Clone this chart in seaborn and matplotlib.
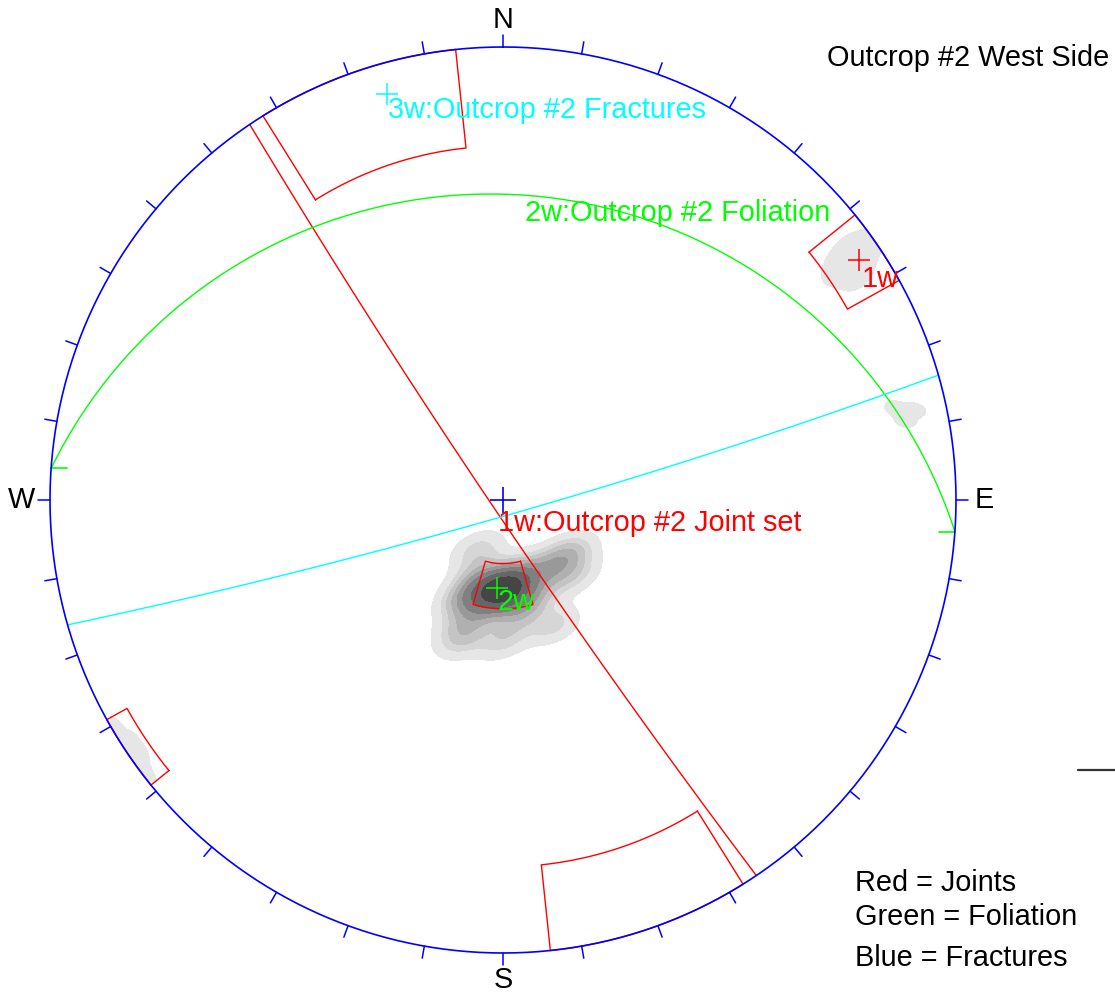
import numpy as np
import pandas as pd
import matplotlib
matplotlib.use("Agg")
import matplotlib.pyplot as plt
import seaborn as sns
from matplotlib.patches import Circle
from matplotlib.lines import Line2D
from matplotlib.colors import ListedColormap, BoundaryNorm

sns.set_theme(style="white")
plt.rcParams['font.family'] = ['Liberation Sans', 'DejaVu Sans']

# ---- data -------------------------------------------------------------
# Mean set poles (trend, plunge in degrees)
set_labels = ["1w:Outcrop #2 Joint set", "2w:Outcrop #2 Foliation", "3w:Outcrop #2 Fractures"]
set_ids = ["1w", "2w", "3w"]
set_pole_trend = [56.0, 184.0, 344.0]
set_pole_plunge = [3.0, 68.0, 4.0]
set_colors = ["#ff0000", "#00ff00", "#00ffff"]

# Set windows (trend range, plunge range; negative plunge wraps to the opposite side)
win_trend_min = [51.0, 164.0, 328.0]
win_trend_max = [61.0, 196.0, 354.0]
win_plunge_min = [-3.0, 63.0, -12.0]
win_plunge_max = [8.0, 74.0, 14.0]

# Measured poles used for the density contours, with their cluster id
pole_trend = [180.0, 183.4, 176.9, 185.0, 174.4, 178.8, 188.5, 172.8,
              198.4, 164.1, 163.3, 190.5, 200.2, 172.6, 151.9, 137.5,
              127.4, 197.7, 195.9, 158.2, 200.8, 206.6, 180.0, 137.0,
              54.1, 55.2, 57.6, 55.3,
              76.8, 77.7, 78.8,
              236.0, 233.0, 239.0, 236.0]
pole_plunge = [68.0, 68.7, 67.0, 67.0, 69.4, 65.6, 69.7, 66.1,
               70.2, 71.7, 64.0, 62.7, 64.8, 61.3, 68.7, 69.6,
               68.6, 57.7, 54.4, 56.9, 63.4, 75.9, 55.6, 64.5,
               3.5, 0.8, 4.3, 6.1,
               6.7, 4.1, 5.7,
               1.8, 0.8, 0.8, 0.2]
pole_cluster = [0] * 24 + [1] * 4 + [2] * 3 + [3] * 4

contour_props = [0.04, 0.13, 0.24, 0.36, 0.48, 0.6, 0.72, 0.85, 1.0]
contour_greys = ["#e6e6e6", "#d6d6d6", "#c4c4c4", "#b0b0b0",
                 "#999999", "#808080", "#666666", "#454545"]
minor_props = [0.2, 1.0]
minor_bw = [1.15, 0.9, 0.8]

compass = ["N", "E", "S", "W"]
title = "Outcrop #2 West Side"
legend_lines = ["Red = Joints", "Green = Foliation", "Blue = Fractures"]


# ---- equal-angle (Wulff) lower-hemisphere projection --------------------
def project(trend, plunge):
    trend = np.asarray(trend, float)
    plunge = np.asarray(plunge, float)
    flip = plunge < 0
    trend = np.where(flip, trend + 180.0, trend)
    plunge = np.abs(plunge)
    r = np.tan(np.radians(45.0 - plunge / 2.0))
    t = np.radians(trend)
    return r * np.sin(t), r * np.cos(t)


def great_circle(dip_dir, dip, n=361):
    dd, dp = np.radians(dip_dir), np.radians(dip)
    st = dd - np.pi / 2
    s = np.array([np.sin(st), np.cos(st), 0.0])
    d = np.array([np.sin(dd) * np.cos(dp), np.cos(dd) * np.cos(dp), -np.sin(dp)])
    t = np.linspace(0, np.pi, n)
    v = np.outer(np.cos(t), s) + np.outer(np.sin(t), d)
    return v[:, 0] / (1 - v[:, 2]), v[:, 1] / (1 - v[:, 2])


def window_box(t0, t1, p0, p1, n=60):
    ta = np.linspace(t0, t1, n)
    tr = np.concatenate([ta, [t1], ta[::-1], [t0]])
    pl = np.concatenate([np.full(n, p1), [p0], np.full(n, p0), [p1]])
    return project(tr, pl)


# ---- figure -------------------------------------------------------------
W, H = 1115, 999
cx, cy, R = 503.0, 500.0, 453.0
fig = plt.figure(figsize=(W / 100, H / 100), dpi=100)
ax = fig.add_axes([0, 0, 1, 1])

prim = Circle((0, 0), 1.0, transform=ax.transData, facecolor="none", edgecolor="none")
ax.add_patch(prim)

# density contours of the poles, one cluster at a time
px, py = project(pole_trend, pole_plunge)
poles = pd.DataFrame({"x": px, "y": py, "cluster": pole_cluster})
for cid, grp in poles.groupby("cluster"):
    if cid == 0:
        props, greys, bw = contour_props, contour_greys, 0.9
    else:
        props, greys, bw = minor_props, contour_greys[:1], minor_bw[cid - 1]
    n_before = len(ax.collections)
    sns.kdeplot(x=grp["x"], y=grp["y"], fill=True, levels=props,
                cmap=ListedColormap(greys), bw_adjust=bw, gridsize=250, cut=4, ax=ax)
    for coll in ax.collections[n_before:]:
        coll.set_clip_path(prim)
        coll.set_zorder(1)
        if hasattr(coll, "levels"):
            coll.set_cmap(ListedColormap(greys))
            coll.set_norm(BoundaryNorm(coll.levels, len(greys)))

ax.set_xlim(-cx / R, (W - cx) / R)
ax.set_ylim(-(H - cy) / R, cy / R)
ax.set_aspect("equal")
ax.axis("off")

# set windows
for t0, t1, p0, p1 in zip(win_trend_min, win_trend_max, win_plunge_min, win_plunge_max):
    if p0 < 0:
        parts = [(t0, t1, 0.0, p1), (t0 + 180, t1 + 180, 0.0, -p0)]
    else:
        parts = [(t0, t1, p0, p1)]
    for a, b, c, d in parts:
        wx, wy = window_box(a, b, c, d)
        ax.plot(wx, wy, color="#ff0000", lw=1.0, zorder=2)

# mean set planes and poles
for i, (tr, pl) in enumerate(zip(set_pole_trend, set_pole_plunge)):
    gx, gy = great_circle((tr + 180) % 360, 90 - pl)
    ax.plot(gx, gy, color=set_colors[i], lw=1.0, zorder=3)
    mx, my = project(tr, pl)
    ax.plot(mx, my, marker="+", ms=16, mew=1.1, color=set_colors[i], zorder=5)
    if set_ids[i] == "2w":
        tick = 16 / R
        for ex, ey in [(gx[0], gy[0]), (gx[-1], gy[-1])]:
            ax.plot([ex, ex - np.sign(ex) * tick], [ey, ey], color=set_colors[i], lw=1.2, zorder=3)

# primitive circle and 10-degree ticks
th = np.linspace(0, 2 * np.pi, 721)
ax.plot(np.sin(th), np.cos(th), color="#0000ff", lw=1.2, zorder=4)
for az in np.radians(np.arange(0, 360, 10)):
    ax.plot([np.sin(az), 1.027 * np.sin(az)], [np.cos(az), 1.027 * np.cos(az)],
            color="#0000ff", lw=1.1, zorder=4)
ax.plot(0, 0, marker="+", ms=19, mew=1.2, color="#0000ff", zorder=5)

fs = 20.8
# compass letters
ax.text(0, 1.06, compass[0], ha="center", va="center", fontsize=fs, color="black")
ax.text(1.062, 0, compass[1], ha="center", va="center", fontsize=fs, color="black")
ax.text(0, -1.06, compass[2], ha="center", va="center", fontsize=fs, color="black")
ax.text(-1.062, 0, compass[3], ha="center", va="center", fontsize=fs, color="black")

# set labels
label_pos = [(-0.011, -0.051), (0.049, 0.634), (-0.254, 0.861)]
for (lx, ly), lab, col in zip(label_pos, set_labels, set_colors):
    ax.text(lx, ly, lab, ha="left", va="center", fontsize=fs, color=col, zorder=6)
ax.text(0.7925, 0.487, set_ids[0], ha="left", va="center", fontsize=fs, color=set_colors[0], zorder=6)
ax.text(-0.013, -0.226, set_ids[1], ha="left", va="center", fontsize=fs, color=set_colors[1], zorder=6)

# title and colour key
ax.text((827 - cx) / R, (cy - 58) / R, title, ha="left", va="center", fontsize=fs, color="black")
for ypx, line in zip([883, 917, 958], legend_lines):
    ax.text((855 - cx) / R, (cy - ypx) / R, line, ha="left", va="center", fontsize=fs, color="black")
fig.add_artist(Line2D([1078 / W, 1.0], [1 - 770 / H, 1 - 770 / H], color="#333333", lw=1.6))

fig.savefig("out.png", dpi=100)
